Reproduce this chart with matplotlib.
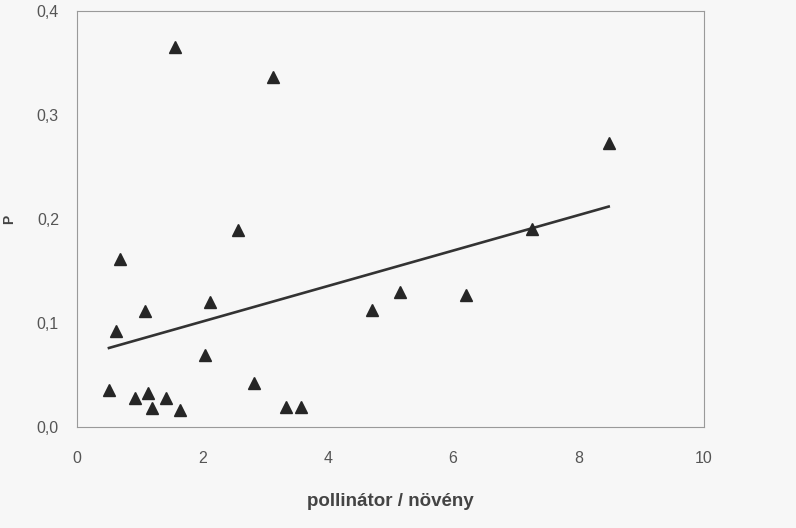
import matplotlib
matplotlib.use("Agg")
import matplotlib.pyplot as plt
from matplotlib.ticker import FuncFormatter

plt.rcParams['font.family'] = ['Liberation Sans', 'DejaVu Sans']

# values
ratio = [0.51, 0.62, 0.69, 0.93, 1.08, 1.13, 1.20, 1.42, 1.56, 1.64, 2.04, 2.12,
         2.57, 2.82, 3.13, 3.33, 3.57, 4.70, 5.15, 6.20, 7.26, 8.48]
p_val = [0.036, 0.092, 0.162, 0.028, 0.112, 0.033, 0.018, 0.028, 0.365, 0.016, 0.069, 0.120,
         0.189, 0.042, 0.337, 0.019, 0.019, 0.113, 0.130, 0.127, 0.190, 0.273]
fit_x = [0.51, 8.48]
fit_y = [0.076, 0.212]
xticks = [0, 2, 4, 6, 8, 10]
yticks = [0.0, 0.1, 0.2, 0.3, 0.4]

fig = plt.figure(figsize=(7.96, 5.28), dpi=100, facecolor='#f7f7f7')
ax = fig.add_axes([0.0967, 0.1913, 0.7877, 0.7877])
ax.set_facecolor('#f7f7f7')

ax.plot(fit_x, fit_y, color='#333333', lw=1.9, zorder=2)
ax.plot(ratio, p_val, ls='none', marker='^', ms=9, color='#262626', zorder=3)

ax.set_xlim(0, 10)
ax.set_ylim(0, 0.4)
ax.set_xticks(xticks)
ax.set_yticks(yticks)
ax.yaxis.set_major_formatter(FuncFormatter(lambda v, pos: f"{v:.1f}".replace('.', ',')))
ax.tick_params(length=0, labelsize=11.5, labelcolor='#555555')
ax.tick_params(axis='x', pad=17)
ax.tick_params(axis='y', pad=13)
for s in ax.spines.values():
    s.set_color('#9a9a9a')
    s.set_linewidth(0.8)

ax.set_xlabel('pollinátor / növény', fontsize=13.5, fontweight='bold', color='#444444', labelpad=20)
ax.set_ylabel('P', fontsize=10, fontweight='bold', color='#444444', labelpad=15)

fig.savefig('out.png', dpi=100, facecolor=fig.get_facecolor())
